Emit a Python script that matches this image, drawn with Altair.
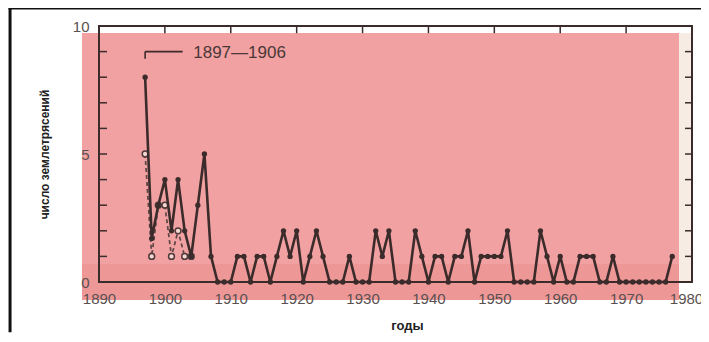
import altair as alt
import pandas as pd

# ---- data ----
years_solid = list(range(1897, 1978))
counts_solid = [8, 1.7, 3, 4, 2, 4, 2, 1, 3, 5,          # 1897-1906
                1, 0, 0, 0, 1, 1, 0, 1, 1, 0,            # 1907-1916
                1, 2, 1, 2, 0, 1, 2, 1, 0, 0,            # 1917-1926
                0, 1, 0, 0, 0, 2, 1, 2, 0, 0,            # 1927-1936
                0, 2, 1, 0, 1, 1, 0, 1, 1, 2,            # 1937-1946
                0, 1, 1, 1, 1, 2, 0, 0, 0, 0,            # 1947-1956
                2, 1, 0, 1, 0, 0, 1, 1, 1, 0,            # 1957-1966
                0, 1, 0, 0, 0, 0, 0, 0, 0, 0,            # 1967-1976
                1]                                       # 1977
years_dashed = list(range(1897, 1905))
counts_dashed = [5, 1, 3, 3, 1, 2, 1, 1]

x_ticks = list(range(1890, 1981, 10))
y_labels = [0, 5, 10]
y_minor = list(range(1, 10))
top_ticks = list(range(1900, 1980, 10))

annot_text = "1897\u20141906"
annot_start, annot_end = 1897, 1902.7

X0, X1, Y0, Y1 = 1890, 1980, 0, 10
W, H = 593, 256
ink = "#3b2b2b"
pink = "#f09c9c"

solid = pd.DataFrame({"year": years_solid, "n": counts_solid})
dashed = pd.DataFrame({"year": years_dashed, "n": counts_dashed})

xs = alt.Scale(domain=[X0, X1], nice=False, zero=False)
ys = alt.Scale(domain=[Y0, Y1], nice=False)

bottom_axis = alt.Axis(values=x_ticks, format="d", ticks=False, domain=False, grid=False,
                       labelFlush=False, labelOverlap=False,
                       labelOffset=alt.expr("datum.value == 1980 ? -6 : 0"),
                       labelFontSize=15, labelColor="#5a5050", labelPadding=9,
                       labelFont="Liberation Sans", title="годы", titleFontSize=13,
                       titleFont="Liberation Sans", titleFontWeight="bold",
                       titleColor="#222", titlePadding=13, titleX=308, zindex=1)
left_axis = alt.Axis(values=y_labels, ticks=False, domain=False, grid=False,
                     labelFontSize=15, labelColor="#5a5050", labelPadding=10,
                     labelFlush=False, labelOverlap=False,
                     labelFont="Liberation Sans", title="число землетрясений",
                     titleFontSize=12, titleFont="Liberation Sans",
                     titleFontWeight="bold", titleColor="#222", titlePadding=21,
                     zindex=1)

one = pd.DataFrame({"a": [0]})

# background pink print (pixel decoration)
bg = alt.Chart(one).mark_rect(color=pink, opacity=0.95).encode(
    x=alt.value(-17), x2=alt.value(580), y=alt.value(7), y2=alt.value(274))
bg2 = alt.Chart(one).mark_rect(color="#e88080", opacity=0.3).encode(
    x=alt.value(-17), x2=alt.value(580), y=alt.value(238), y2=alt.value(274))
edge = alt.Chart(one).mark_rect(color="#f6ece4").encode(
    x=alt.value(580), x2=alt.value(W - 1), y=alt.value(7), y2=alt.value(H - 1))

# frame (all four sides) and page border lines in data coordinates
segs = pd.DataFrame({
    "xa": [X0, X0, X0, X1, 1876.5, 1876.5],
    "xb": [X1, X1, X0, X1, 1876.5, 1983.0],
    "ya": [Y0, Y1, Y0, Y0, -1.9, 10.7],
    "yb": [Y0, Y1, Y1, Y1, 10.7, 10.7],
    "c": ["f", "f", "f", "f", "b", "b"],
})
frame = alt.Chart(segs).mark_rule(strokeCap="square").encode(
    x=alt.X("xa:Q", scale=xs, axis=bottom_axis), x2="xb:Q",
    y=alt.Y("ya:Q", scale=ys, axis=left_axis), y2="yb:Q",
    color=alt.Color("c:N", scale=alt.Scale(domain=["f", "b"], range=[ink, "#111"]),
                    legend=None),
    strokeWidth=alt.StrokeWidth("c:N", scale=alt.Scale(domain=["f", "b"], range=[2, 3]),
                                legend=None))

# inward ticks: top (decades), left and right (every unit)
ttd = pd.DataFrame({"v": top_ticks, "ya": [Y1] * len(top_ticks),
                    "yb": [Y1 - 0.28] * len(top_ticks)})
tt = alt.Chart(ttd).mark_rule(color=ink, strokeWidth=1.5).encode(
    x=alt.X("v:Q", scale=xs), y=alt.Y("ya:Q", scale=ys), y2="yb:Q")
ymin = pd.DataFrame({"v": y_minor})
lt = alt.Chart(ymin).mark_rule(color=ink, strokeWidth=1.5).encode(
    y=alt.Y("v:Q", scale=ys), x=alt.value(1), x2=alt.value(8))
rt = alt.Chart(ymin).mark_rule(color=ink, strokeWidth=1.5).encode(
    y=alt.Y("v:Q", scale=ys), x=alt.value(W - 7), x2=alt.value(W))

# dashed series with open circles
dash_line = alt.Chart(dashed).mark_line(color="#5e4646", strokeWidth=1.7,
                                        strokeDash=[4, 3]).encode(
    x=alt.X("year:Q", scale=xs), y=alt.Y("n:Q", scale=ys))
dash_pts = alt.Chart(dashed).mark_point(shape="circle", size=34, filled=True,
                                        fill="#f6d6d0", stroke="#4e3a3a",
                                        strokeWidth=1.5, opacity=1).encode(
    x=alt.X("year:Q", scale=xs), y=alt.Y("n:Q", scale=ys))

# solid series
sol_line = alt.Chart(solid).mark_line(color=ink, strokeWidth=2.6).encode(
    x=alt.X("year:Q", scale=xs), y=alt.Y("n:Q", scale=ys))
sol_pts = alt.Chart(solid).mark_point(shape="circle", size=28, filled=True,
                                      color=ink, opacity=1).encode(
    x=alt.X("year:Q", scale=xs), y=alt.Y("n:Q", scale=ys))

# annotation bracket
br = pd.DataFrame({"x1": [annot_start, annot_start], "x2": [annot_end, annot_start],
                   "y1": [9.0, 9.0], "y2": [9.0, 8.72]})
bracket = alt.Chart(br).mark_rule(color=ink, strokeWidth=1.6).encode(
    x=alt.X("x1:Q", scale=xs), x2="x2:Q",
    y=alt.Y("y1:Q", scale=ys), y2="y2:Q")
label = alt.Chart(pd.DataFrame({"x": [1904.3], "y": [8.95], "t": [annot_text]})).mark_text(
    align="left", baseline="middle", fontSize=17, font="Liberation Sans",
    color="#4a3838").encode(
    x=alt.X("x:Q", scale=xs), y=alt.Y("y:Q", scale=ys), text="t:N")

layers = [bg, bg2, edge, frame, tt, lt, rt,
          dash_line, dash_pts, sol_line, sol_pts, bracket, label]

chart = alt.layer(*layers).properties(
    width=W, height=H,
    padding={"left": 91, "top": 18, "right": 9, "bottom": 52},
    autosize=alt.AutoSizeParams(type="none"),
    background="white",
).configure_view(stroke=None)

chart.save("out.html", embed_options={"renderer": "svg", "actions": False})
